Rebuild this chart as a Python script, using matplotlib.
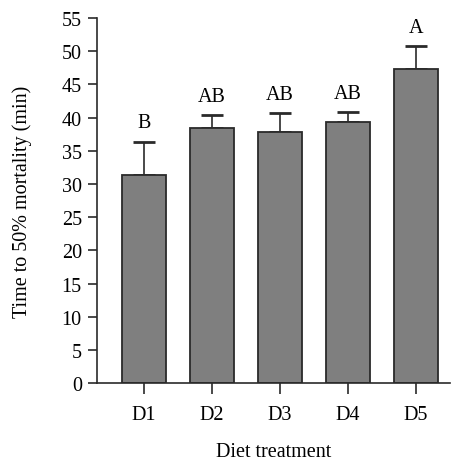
import matplotlib.pyplot as plt

# Time to 50% mortality per diet treatment
diets = ['D1', 'D2', 'D3', 'D4', 'D5']
mean_time = [31.4, 38.4, 37.8, 39.3, 47.3]
sd_time = [5.0, 2.0, 2.9, 1.5, 3.5]
letters = ['B', 'AB', 'AB', 'AB', 'A']


def plot_mortality():
    plt.rcParams['font.family'] = ['Liberation Serif', 'DejaVu Serif']
    plt.rcParams['font.size'] = 14.5

    fig = plt.figure(figsize=(4.6, 4.64), dpi=100)
    ax = fig.add_axes([0.211, 0.172, 0.767, 0.787])

    x = list(range(len(diets)))
    ax.bar(x, mean_time, width=0.65, color='#7f7f7f', edgecolor='#2a2a2a',
           linewidth=1.3, zorder=2)
    ax.errorbar(x, mean_time, yerr=[[0] * len(sd_time), sd_time], fmt='none',
                ecolor='#2a2a2a', elinewidth=1.2, capsize=8, capthick=2,
                zorder=1)

    for xi, m, s, lab in zip(x, mean_time, sd_time, letters):
        ax.annotate(lab, (xi, m + s), xytext=(0, 6.5),
                    textcoords='offset points', ha='center', va='bottom')

    ax.set_xlim(-0.69, 4.5)
    ax.set_ylim(0, 55)
    ax.set_yticks(range(0, 56, 5))
    ax.set_xticks(x)
    ax.set_xticklabels(diets)

    for side in ['top', 'right']:
        ax.spines[side].set_visible(False)
    for side in ['left', 'bottom']:
        ax.spines[side].set_linewidth(1.2)
        ax.spines[side].set_color('#2a2a2a')

    ax.tick_params(axis='y', length=6.5, width=1.2, color='#2a2a2a', pad=4.5)
    ax.tick_params(axis='x', length=8, width=1.2, color='#2a2a2a', pad=8)

    ax.set_xlabel('Diet treatment', labelpad=13)
    ax.set_ylabel('Time to 50% mortality (min)', labelpad=21)

    fig.savefig('out.png', dpi=100)


if __name__ == '__main__':
    plot_mortality()
